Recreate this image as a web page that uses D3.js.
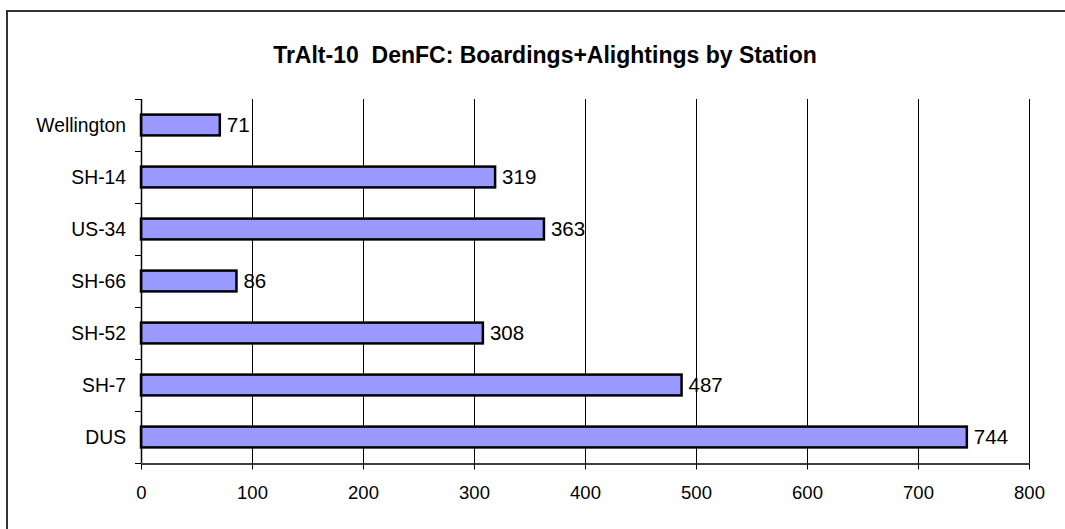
<!DOCTYPE html>
<html>
<head>
<meta charset="utf-8">
<script src="https://cdn.jsdelivr.net/npm/d3@7/dist/d3.min.js"></script>
<style>
  html, body { margin: 0; padding: 0; background: #fff; }
  svg { display: block; font-family: "Liberation Sans", Arial, sans-serif; }
</style>
</head>
<body>
<svg id="chart" width="1065" height="529"></svg>
<script>
// Stations, top to bottom, and their boardings + alightings
const stations = ["Wellington", "SH-14", "US-34", "SH-66", "SH-52", "SH-7", "DUS"];
const riders = [71, 319, 363, 86, 308, 487, 744];
const xTicks = [0, 100, 200, 300, 400, 500, 600, 700, 800];
const titleText = "TrAlt-10  DenFC: Boardings+Alightings by Station";

const svg = d3.select("#chart");
const plot = { left: 141, right: 1029, top: 99, bottom: 463 };

// Chart frame
svg.append("rect")
  .attr("x", 7).attr("y", 11)
  .attr("width", 1100).attr("height", 560)
  .attr("fill", "#fff").attr("stroke", "#333").attr("stroke-width", 2);

svg.append("text")
  .attr("x", 545).attr("y", 63)
  .attr("text-anchor", "middle")
  .attr("font-size", 23).attr("font-weight", "bold")
  .attr("fill", "#000")
  .style("white-space", "pre")
  .text(titleText);

const x = d3.scaleLinear().domain([0, 800]).range([plot.left, plot.right]);
const y = d3.scaleBand().domain(stations).range([plot.top, plot.bottom]).paddingInner(0.6).paddingOuter(0.3);
const bandStep = y.step();

// Vertical gridlines
svg.append("g").selectAll("line")
  .data(xTicks.filter(v => v > 0))
  .join("line")
  .attr("x1", d => Math.round(x(d)) + 0.5).attr("x2", d => Math.round(x(d)) + 0.5)
  .attr("y1", plot.top).attr("y2", plot.bottom)
  .attr("stroke", "#000").attr("stroke-width", 1);

// Bars
svg.append("g").selectAll("rect")
  .data(stations.map((s, i) => ({ s, v: riders[i] })))
  .join("rect")
  .attr("x", x(0))
  .attr("y", d => y(d.s))
  .attr("width", d => x(d.v) - x(0))
  .attr("height", y.bandwidth())
  .attr("fill", "#9999ff")
  .attr("stroke", "#000").attr("stroke-width", 2.5);

// Value labels
svg.append("g").selectAll("text")
  .data(stations.map((s, i) => ({ s, v: riders[i] })))
  .join("text")
  .attr("x", d => x(d.v) + 7)
  .attr("y", d => y(d.s) + y.bandwidth() / 2)
  .attr("dy", "0.36em")
  .attr("font-size", 20.5)
  .attr("fill", "#000")
  .text(d => d.v);

// Bottom axis
const xAxis = svg.append("g")
  .attr("transform", `translate(0,${plot.bottom + 0.5})`)
  .call(d3.axisBottom(x).tickValues(xTicks).tickSize(6).tickSizeOuter(0).tickPadding(16));
xAxis.select(".domain").attr("stroke", "#000").attr("stroke-width", 1.5);
xAxis.selectAll(".tick line").attr("stroke", "#000");
xAxis.selectAll(".tick text")
  .attr("font-size", 18.5).attr("font-family", "Liberation Sans, Arial, sans-serif").attr("fill", "#000");

// Left axis: line, ticks at band boundaries, category labels
const yAxis = svg.append("g");
yAxis.append("line")
  .attr("x1", plot.left + 0.5).attr("x2", plot.left + 0.5)
  .attr("y1", plot.top).attr("y2", plot.bottom)
  .attr("stroke", "#000").attr("stroke-width", 1.5);
yAxis.selectAll("line.tk")
  .data(d3.range(stations.length + 1))
  .join("line").attr("class", "tk")
  .attr("x1", plot.left - 6).attr("x2", plot.left)
  .attr("y1", i => Math.round(plot.top + i * bandStep) + 0.5)
  .attr("y2", i => Math.round(plot.top + i * bandStep) + 0.5)
  .attr("stroke", "#000");
yAxis.selectAll("text")
  .data(stations)
  .join("text")
  .attr("x", 126)
  .attr("y", d => y(d) + y.bandwidth() / 2)
  .attr("dy", "0.36em")
  .attr("text-anchor", "end")
  .attr("font-size", 19.3)
  .attr("fill", "#000")
  .text(d => d);
</script>
</body>
</html>
